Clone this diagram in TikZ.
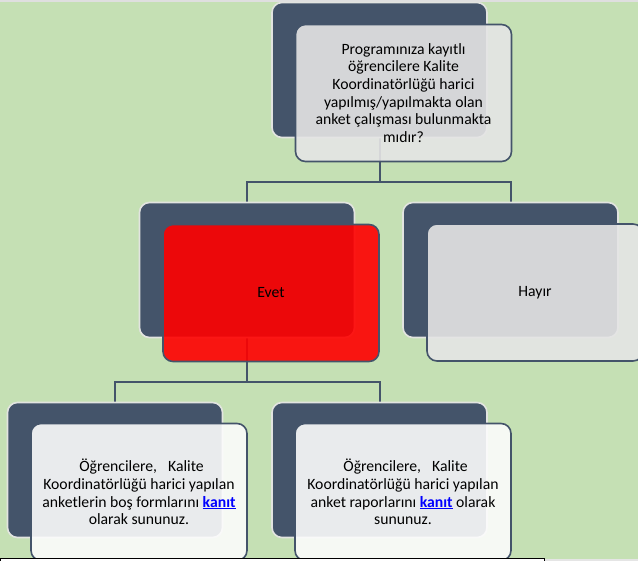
\documentclass[tikz,border=0pt]{standalone}
\usepackage{fontspec}
\setmainfont{Carlito}
\usetikzlibrary{calc}
\definecolor{bgc}{HTML}{C5E0B4}
\definecolor{dk}{HTML}{44546A}
\definecolor{rim}{HTML}{E2E4E0}
\definecolor{gfill}{HTML}{E5E5E5}
\definecolor{wfill}{HTML}{FCFCFC}
\definecolor{rfill}{HTML}{FF0000}
\definecolor{lnk}{HTML}{0000FF}
\pgfdeclarelayer{bgl}
\pgfsetlayers{bgl,main}
\tikzset{
 backbox/.style={draw=rim, line width=1.6pt, fill=dk, rounded corners=10pt, minimum width=215pt, minimum height=135pt, inner sep=0pt},
 frontbox/.style={draw=dk, line width=1.6pt, fill=#1, fill opacity=0.9, text opacity=1, rounded corners=10pt, minimum width=216pt, minimum height=137pt, inner sep=0pt, align=center, font=\fontsize{15.7}{17.6}\selectfont},
 conn/.style={draw=dk, line width=2pt},
}
\newcommand{\kanitlink}{\textcolor{lnk}{\bfseries\underline{kanıt}}}
\begin{document}
\begin{tikzpicture}[x=1pt,y=-1pt]
\useasboundingbox (0,0) rectangle (638,561);
\clip (0,0) rectangle (638,561);
% back boxes
\node[backbox] (qb) at (379.5,70) {};
\node[backbox] (eb) at (247,270) {};
\node[backbox] (hb) at (510.5,270) {};
\node[backbox] (lb) at (115,470) {};
\node[backbox] (rb) at (379.5,470) {};
% front boxes
\node[frontbox=gfill] (qf) at (403.5,93) {Programınıza kayıtlı\\öğrencilere Kalite\\Koordinatörlüğü harici\\yapılmış/yapılmakta olan\\anket çalışması bulunmakta\\mıdır?};
\node[frontbox=rfill] (ef) at (271,293) {Evet};
\node[frontbox=gfill] (hf) at (535,292.5) {Hayır};
\node[frontbox=wfill] (lf) at (139,492) {\hspace*{5pt}Öğrencilere,\hspace*{11pt}Kalite\\Koordinatörlüğü harici yapılan\\anketlerin boş formlarını \kanitlink\\olarak sununuz.};
\node[frontbox=wfill] (rf) at (403,492) {\hspace*{5pt}Öğrencilere,\hspace*{11pt}Kalite\\Koordinatörlüğü harici yapılan\\anket raporlarını \kanitlink{} olarak\\sununuz.};
% connectors and background
\begin{pgfonlayer}{bgl}
\fill[bgc] (0,0) rectangle (638,561);
\fill[gray!25] (0,0) rectangle (638,2.5);
\coordinate (j1) at ($(qb.south)+(0,43.5)$);
\coordinate (j2) at ($(eb.south)+(0,44)$);
\draw[conn] (qb.south) -- (j1) -| (eb.north);
\draw[conn] (j1) -| (hb.north);
\draw[conn] (eb.south) -- (j2) -| (lb.north);
\draw[conn] (j2) -| (rb.north);
\end{pgfonlayer}
% bottom strip
\fill[gray!20] (544,559) rectangle (638,561);
\draw[black, fill=white, line width=1pt] (0.5,558.5) rectangle (544,575);
\end{tikzpicture}
\end{document}
